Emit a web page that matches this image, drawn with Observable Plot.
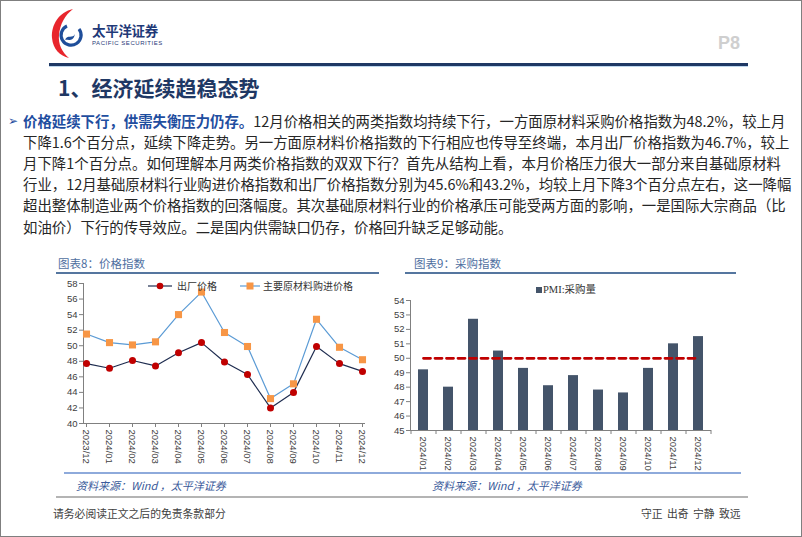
<!DOCTYPE html>
<html><head><meta charset="utf-8">
<script src="https://cdn.jsdelivr.net/npm/d3@7"></script>
<script src="https://cdn.jsdelivr.net/npm/@observablehq/plot@0.6"></script>
<style>
html,body{margin:0;padding:0;background:#fff;}
#page{position:relative;width:800px;height:535px;border:1px solid #7f7f7f;overflow:hidden;font-family:"Noto Sans CJK SC","Noto Sans",sans-serif;background:#fff;}
.abs{position:absolute;}
.ln{position:absolute;left:22px;width:758px;font-size:14.4px;line-height:21px;height:21px;color:#262626;text-align:justify;text-align-last:justify;white-space:nowrap;}
.ln.last{text-align-last:left;}
.ctitle{position:absolute;font-size:11.5px;color:#4f6f9f;line-height:14px;}
.src{position:absolute;font-size:11px;color:#3a5a9a;font-style:italic;line-height:14px;}
.leg{position:absolute;font-size:10px;color:#333;line-height:12px;white-space:nowrap;}
</style></head>
<body>
<div id="page">
  <!-- logo -->
  <svg class="abs" style="left:48px;top:6px" width="40" height="52" viewBox="0 0 40 52">
    <path d="M24,2 C10,5 2,18 3,31 C4,42 11,49 20,51 C13,45 9,37 10,28 C11,17 16,8 24,2 Z" fill="#e8262d"/>
    <path d="M30,22 A10,10 0 1 1 18,19" fill="none" stroke="#1f4e9a" stroke-width="3.2"/>
    <path d="M16,33 C18,27 24,32 26,27 C24,36 18,32 16,33 Z" fill="#1f4e9a"/>
  </svg>
  <div class="abs" style="left:91px;top:21px;font-size:13.5px;font-weight:700;color:#1f3a78;line-height:17px;letter-spacing:-0.3px;">太平洋证券</div>
  <div class="abs" style="left:91px;top:39px;font-size:6px;color:#1f3a78;line-height:7px;letter-spacing:0.55px;font-family:'Liberation Sans',Arial,sans-serif;">PACIFIC SECURITIES</div>
  <div class="abs" style="left:717px;top:31px;font-size:18px;font-weight:700;color:#cfcfcf;line-height:22px;font-family:'Liberation Sans',Arial,sans-serif;">P8</div>
  <div class="abs" style="left:48px;top:61.5px;width:699px;height:3px;background:#1f3864;box-shadow:0 1px 0 #bdd7ee;"></div>

  <div class="abs" style="left:57px;top:73px;font-size:21px;font-weight:700;color:#1f3864;line-height:27px;">1、经济延续趋稳态势</div>

  <div class="abs" style="left:7px;top:108px;font-size:12px;line-height:21px;color:#1f4e9f;">➢</div>
  <div class="ln" style="top:108.5px"><b style="color:#1f4e9f">价格延续下行，供需失衡压力仍存。</b>12月价格相关的两类指数均持续下行，一方面原材料采购价格指数为48.2%，较上月</div>
  <div class="ln" style="top:129.7px">下降1.6个百分点，延续下降走势。另一方面原材料价格指数的下行相应也传导至终端，本月出厂价格指数为46.7%，较上</div>
  <div class="ln" style="top:150.9px">月下降1个百分点。如何理解本月两类价格指数的双双下行？首先从结构上看，本月价格压力很大一部分来自基础原材料</div>
  <div class="ln" style="top:172.1px">行业，12月基础原材料行业购进价格指数和出厂价格指数分别为45.6%和43.2%，均较上月下降3个百分点左右，这一降幅</div>
  <div class="ln" style="top:193.3px">超出整体制造业两个价格指数的回落幅度。其次基础原材料行业的价格承压可能受两方面的影响，一是国际大宗商品（比</div>
  <div class="ln last" style="top:214.5px">如油价）下行的传导效应。二是国内供需缺口仍存，价格回升缺乏足够动能。</div>

  <div class="ctitle" style="left:57px;top:255px;">图表8：价格指数</div>
  <div class="abs" style="left:55px;top:271px;width:323px;height:1.5px;background:#55769f;"></div>
  <div class="ctitle" style="left:413px;top:255px;">图表9：采购指数</div>
  <div class="abs" style="left:404px;top:271px;width:331px;height:1.5px;background:#55769f;"></div>

  <div id="c8" class="abs" style="left:0px;top:270px;"></div>
  <div id="c9" class="abs" style="left:380px;top:270px;"></div>

  <!-- legend chart 8 -->
  <svg class="abs" style="left:147px;top:280px" width="26" height="10"><line x1="0" y1="5" x2="24" y2="5" stroke="#1f2d50" stroke-width="1.2"/><circle cx="12" cy="5" r="3.3" fill="#c00000"/></svg>
  <div class="leg" style="left:176px;top:279px;">出厂价格</div>
  <svg class="abs" style="left:239px;top:280px" width="22" height="10"><line x1="0" y1="5" x2="20" y2="5" stroke="#5b9bd5" stroke-width="1.2"/><rect x="6.5" y="1.5" width="7" height="7" fill="#f79646"/></svg>
  <div class="leg" style="left:262px;top:279px;">主要原材料购进价格</div>
  <!-- legend chart 9 -->
  <div class="abs" style="left:535px;top:286px;width:5.5px;height:5.5px;background:#44546a;"></div>
  <div class="leg" style="left:542px;top:283px;font-family:'Liberation Serif','Noto Sans CJK SC',serif;font-size:10.5px;">PMI:采购量</div>

  <div class="abs" style="left:63px;top:471px;width:677px;height:2px;background:#8eaadb;"></div>
  <div class="src" style="left:75px;top:477px;">资料来源：Wind ，太平洋证券</div>
  <div class="src" style="left:431px;top:477px;">资料来源：Wind ，太平洋证券</div>
  <div class="abs" style="left:55px;top:495px;width:692px;height:2px;background:#b4b4b4;"></div>
  <div class="abs" style="left:52px;top:505px;font-size:10.8px;color:#404040;line-height:14px;">请务必阅读正文之后的免责条款部分</div>
  <div class="abs" style="left:640px;top:505px;font-size:10.8px;color:#404040;line-height:14px;word-spacing:2px;">守正 出奇 宁静 致远</div>
</div>
<script>
// ---- data: 图表8 价格指数 ----
const months8 = ["2023/12","2024/01","2024/02","2024/03","2024/04","2024/05","2024/06","2024/07","2024/08","2024/09","2024/10","2024/11","2024/12"];
const factoryPrice = [47.7,47.1,48.1,47.4,49.1,50.4,47.9,46.3,42.0,44.0,49.9,47.7,46.7];   // 出厂价格
const inputPrice   = [51.5,50.4,50.1,50.5,54.0,56.9,51.7,49.9,43.2,45.1,53.4,49.8,48.2];   // 主要原材料购进价格
const yTicks8 = [40,42,44,46,48,50,52,54,56,58];

// ---- data: 图表9 采购指数 ----
const months9 = ["2024/01","2024/02","2024/03","2024/04","2024/05","2024/06","2024/07","2024/08","2024/09","2024/10","2024/11","2024/12"];
const purchaseQty = [49.2,48.0,52.7,50.5,49.3,48.1,48.8,47.8,47.6,49.3,51.0,51.5];          // PMI:采购量
const yTicks9 = [45,46,47,48,49,50,51,52,53,54];
const threshold = 50;

const rows8 = months8.map((m,i)=>({m, factory: factoryPrice[i], input: inputPrice[i]}));
const rows9 = months9.map((m,i)=>({m, v: purchaseQty[i]}));

const axisStyle = {fontFamily:"'Liberation Sans',Arial,sans-serif", fontSize:"9.5px", color:"#404040", background:"transparent", overflow:"visible"};

const c8 = Plot.plot({
  width: 380, height: 200,
  marginLeft: 82, marginRight: 17, marginTop: 12, marginBottom: 48,
  style: axisStyle,
  x: {type: "point", domain: months8, padding: 0},
  y: {domain: [40, 58]},
  marks: [
    Plot.axisY({ticks: yTicks8, tickSize: 4, tickPadding: 2, label: null, stroke: "#808080", fill: "#404040"}),
    Plot.axisX({tickSize: 4, tickPadding: 2, tickRotate: 90, label: null, stroke: "#808080", fill: "#404040"}),
    Plot.frame({anchor: "left", stroke: "#808080"}),
    Plot.frame({anchor: "bottom", stroke: "#808080"}),
    Plot.line(rows8, {x: "m", y: "input", stroke: "#5b9bd5", strokeWidth: 1.2}),
    Plot.line(rows8, {x: "m", y: "factory", stroke: "#1f2d50", strokeWidth: 1.2}),
    Plot.dot(rows8, {x: "m", y: "input", symbol: "square", r: 4, fill: "#f79646"}),
    Plot.dot(rows8, {x: "m", y: "factory", r: 3.5, fill: "#c00000"})
  ]
});
document.getElementById("c8").appendChild(c8);

const w9 = 340, ml9 = 29, mr9 = 11;
const step9 = (w9 - ml9 - mr9) / months9.length;
const c9 = Plot.plot({
  width: w9, height: 200,
  marginLeft: ml9, marginRight: mr9, marginTop: 29, marginBottom: 41,
  style: axisStyle,
  x: {type: "band", domain: months9, paddingInner: 0.6, paddingOuter: 0.3},
  y: {domain: [45, 54]},
  marks: [
    Plot.axisY({ticks: yTicks9, tickSize: 4, tickPadding: 2, label: null, stroke: "#808080", fill: "#404040"}),
    Plot.axisX({tickSize: 0, tickPadding: 6, tickRotate: 90, label: null, fill: "#404040"}),
    Plot.barY(rows9, {x: "m", y1: 45, y2: "v", fill: "#44546a"}),
    Plot.ruleX(months9, {x: d => d, dx: -step9/2, y1: 45, y2: 45 - 4/14.4, stroke: "#808080"}),
    Plot.ruleX(months9.slice(-1), {x: d => d, dx: step9/2, y1: 45, y2: 45 - 4/14.4, stroke: "#808080"}),
    Plot.frame({anchor: "left", stroke: "#808080"}),
    Plot.frame({anchor: "bottom", stroke: "#808080"}),
    Plot.line(rows9, {x: "m", y: () => threshold, stroke: "#c00000", strokeWidth: 2.8, strokeDasharray: "7,4.5"})
  ]
});
document.getElementById("c9").appendChild(c9);
</script>
</body></html>
